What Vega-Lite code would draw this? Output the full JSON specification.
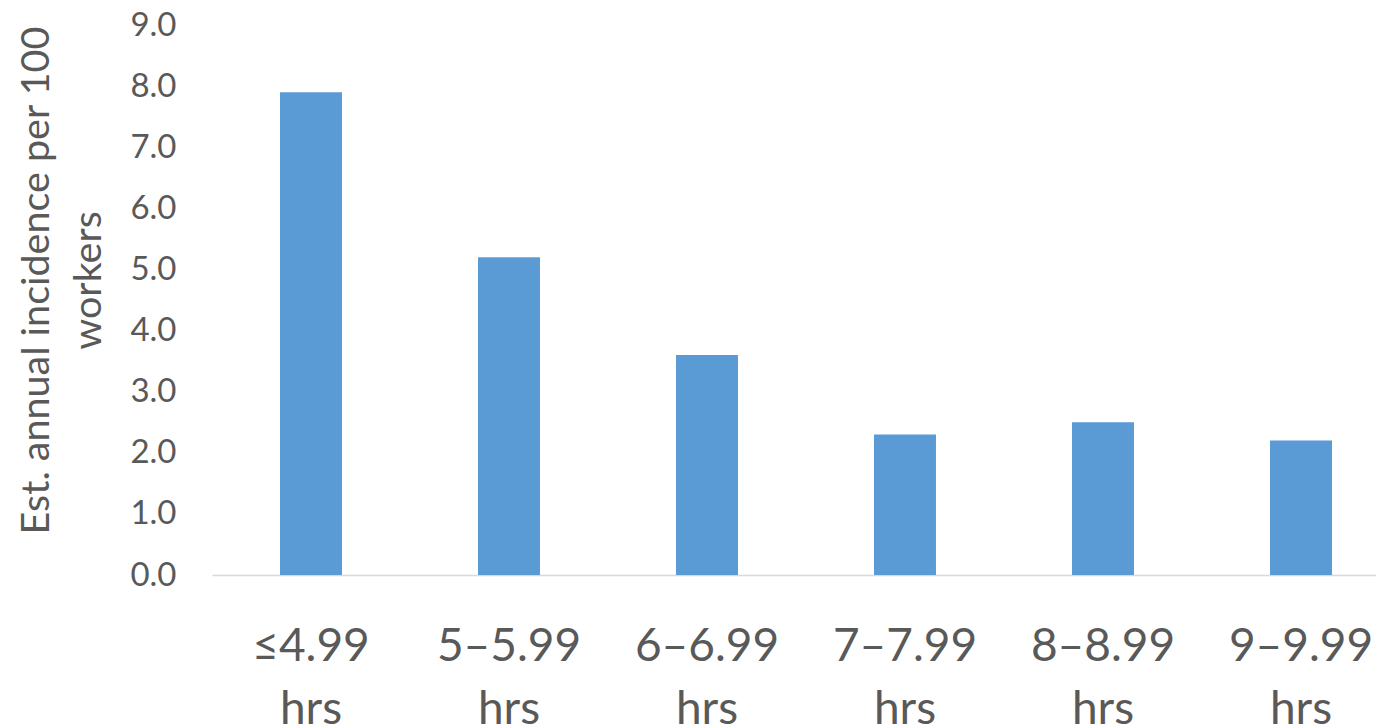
{
  "$schema": "https://vega.github.io/schema/vega-lite/v6.json",
  "autosize": {"type": "none"},
  "padding": {"left": 212, "top": 25, "right": 0, "bottom": 153},
  "width": 1164,
  "height": 550,
  "background": "white",
  "config": {
    "view": {"stroke": null},
    "font": "Lato"
  },
  "data": {
    "values": [
      {"sleep": "≤4.99 hrs", "incidence": 7.9},
      {"sleep": "5–5.99 hrs", "incidence": 5.2},
      {"sleep": "6–6.99 hrs", "incidence": 3.6},
      {"sleep": "7–7.99 hrs", "incidence": 2.3},
      {"sleep": "8–8.99 hrs", "incidence": 2.5},
      {"sleep": "9–9.99 hrs", "incidence": 2.2}
    ]
  },
  "mark": {"type": "bar", "color": "#5B9BD5"},
  "encoding": {
    "x": {
      "field": "sleep",
      "type": "nominal",
      "sort": null,
      "scale": {"range": [0, 1188], "paddingInner": 0.687, "paddingOuter": 0.3435},
      "axis": {
        "title": null,
        "labelAngle": 0,
        "labelExpr": "split(datum.label, ' ')",
        "labelFont": "Lato",
        "labelFontSize": 46,
        "labelLineHeight": 63,
        "labelColor": "#595959",
        "labelBaseline": "alphabetic",
        "labelPadding": 85,
        "ticks": false,
        "tickSize": 0,
        "domainColor": "#D9D9D9",
        "domainWidth": 1.5,
        "grid": false
      }
    },
    "y": {
      "field": "incidence",
      "type": "quantitative",
      "scale": {"domain": [0, 9], "nice": false},
      "axis": {
        "title": ["Est. annual incidence per 100", "workers"],
        "titleFont": "Lato",
        "titleFontSize": 39.5,
        "titleFontWeight": "normal",
        "titleColor": "#595959",
        "titleLineHeight": 52,
        "titleAngle": -90,
        "titleAlign": "center",
        "titleBaseline": "alphabetic",
        "titleX": -164,
        "titleY": 255,
        "values": [0, 1, 2, 3, 4, 5, 6, 7, 8, 9],
        "format": ".1f",
        "labelFont": "Lato",
        "labelFontSize": 33,
        "labelColor": "#595959",
        "labelPadding": 36,
        "ticks": false,
        "tickSize": 0,
        "domain": false,
        "grid": false
      }
    }
  }
}
